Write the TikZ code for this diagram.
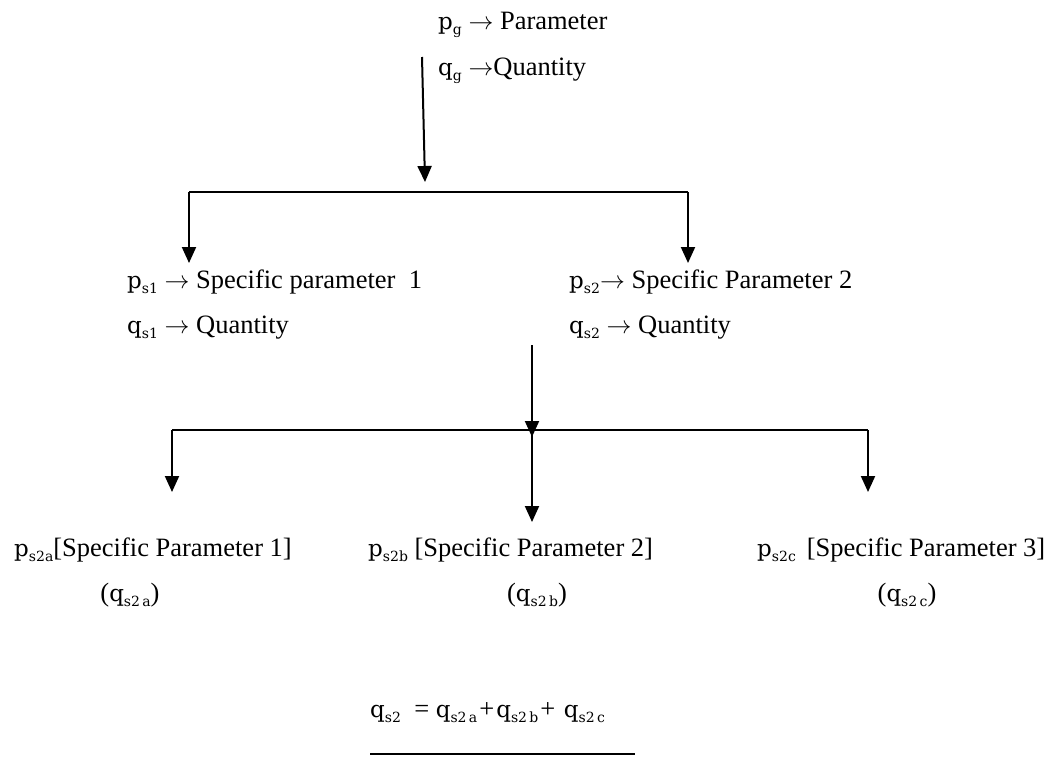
\documentclass[tikz,border=0pt]{standalone}
\usepackage{fontspec}
\setmainfont{Liberation Serif}
\newfontfamily\varfont{DejaVu Serif}
\usetikzlibrary{arrows.meta, positioning}

\newcommand{\vq}[2]{{\varfont\fontsize{23}{27}\selectfont #1\raisebox{-5pt}{\fontsize{14}{16}\selectfont #2}}}
\newcommand{\piu}{\kern2pt+\kern2pt}

\begin{document}
\begin{tikzpicture}[x=1pt, y=-1pt,
	testo/.style={anchor=base west, inner sep=0pt, font=\fontsize{26.5}{32}\selectfont},
	testoc/.style={testo, anchor=base},
	freccia/.style={-{Triangle[length=16pt,width=14pt]}, line width=2pt},
	linea/.style={line width=2pt}]
	\useasboundingbox (0,0) rectangle (1056,760);
	
	%Scrivo i testi del primo livello
	\node(pg) at (438,30) [testo]{\vq{p}{g} $\rightarrow$ Parameter};
	\node(qg) at (438,75) [testo]{\vq{q}{g} $\rightarrow$Quantity};
	
	%Scrivo i testi del secondo livello
	\node(ps1) at (127,288) [testo]{\vq{p}{s1} $\rightarrow$ Specific parameter \ 1};
	\node(qs1) at (127,333) [testo]{\vq{q}{s1} $\rightarrow$ Quantity};
	\node(ps2) at (569,288) [testo]{\vq{p}{s2}$\rightarrow$ Specific Parameter 2};
	\node(qs2) at (569,333) [testo]{\vq{q}{s2} $\rightarrow$ Quantity};
	
	%Scrivo i testi del terzo livello
	\node(ps2a) at (14,556) [testo]{\vq{p}{s2a}[Specific Parameter 1]};
	\node(ps2b) at (368,556) [testo]{\vq{p}{s2b} [Specific Parameter 2]};
	\node(ps2c) at (757,556) [testo]{\vq{p}{s2c} \,[Specific Parameter 3]};
	\node(qs2a) at (130,601) [testoc]{(\vq{q}{s2\,a})};
	\node(qs2b) at (537,601) [testoc]{(\vq{q}{s2\,b})};
	\node(qs2c) at (907,601) [testoc]{(\vq{q}{s2\,c})};
	
	%Somma finale
	\node(somma) at (370,717) [testo]{\vq{q}{s2} \ = \vq{q}{s2\,a}\piu\vq{q}{s2\,b}\piu\ \vq{q}{s2\,c}};
	\coordinate (sommaL) at (370,754);
	\coordinate (sommaR) at (635,754);
	\draw[linea] (sommaL) -- (sommaR);
	
	%Punti dei collegamenti
	\coordinate (gTop) at (422,57);
	\coordinate (gTip) at (425,182);
	\coordinate (bus1L) at (189,192);
	\coordinate (bus1R) at (688,192);
	\coordinate (s1Tip) at (189,263);
	\coordinate (s2Tip) at (688,263);
	\coordinate (s2Top) at (532,345);
	\coordinate (s2Mid) at (532,430);
	\coordinate (bus2L) at (172,430);
	\coordinate (bus2R) at (868,430);
	
	%Rappresento i collegamenti
	\draw[freccia] (gTop) -- (gTip);
	\draw[linea] (bus1L) -- (bus1R);
	\draw[freccia] (bus1L) -- (s1Tip);
	\draw[freccia] (bus1R) -- (s2Tip);
	\draw[freccia] (s2Top) -- ([yshift=-7pt]s2Mid);
	\draw[linea] (bus2L) -- (bus2R);
	\draw[freccia] (bus2L) -- (bus2L |- 0,492);
	\draw[freccia] (s2Mid) -- (s2Mid |- 0,522);
	\draw[freccia] (bus2R) -- (bus2R |- 0,492);
	
\end{tikzpicture}
\end{document}
